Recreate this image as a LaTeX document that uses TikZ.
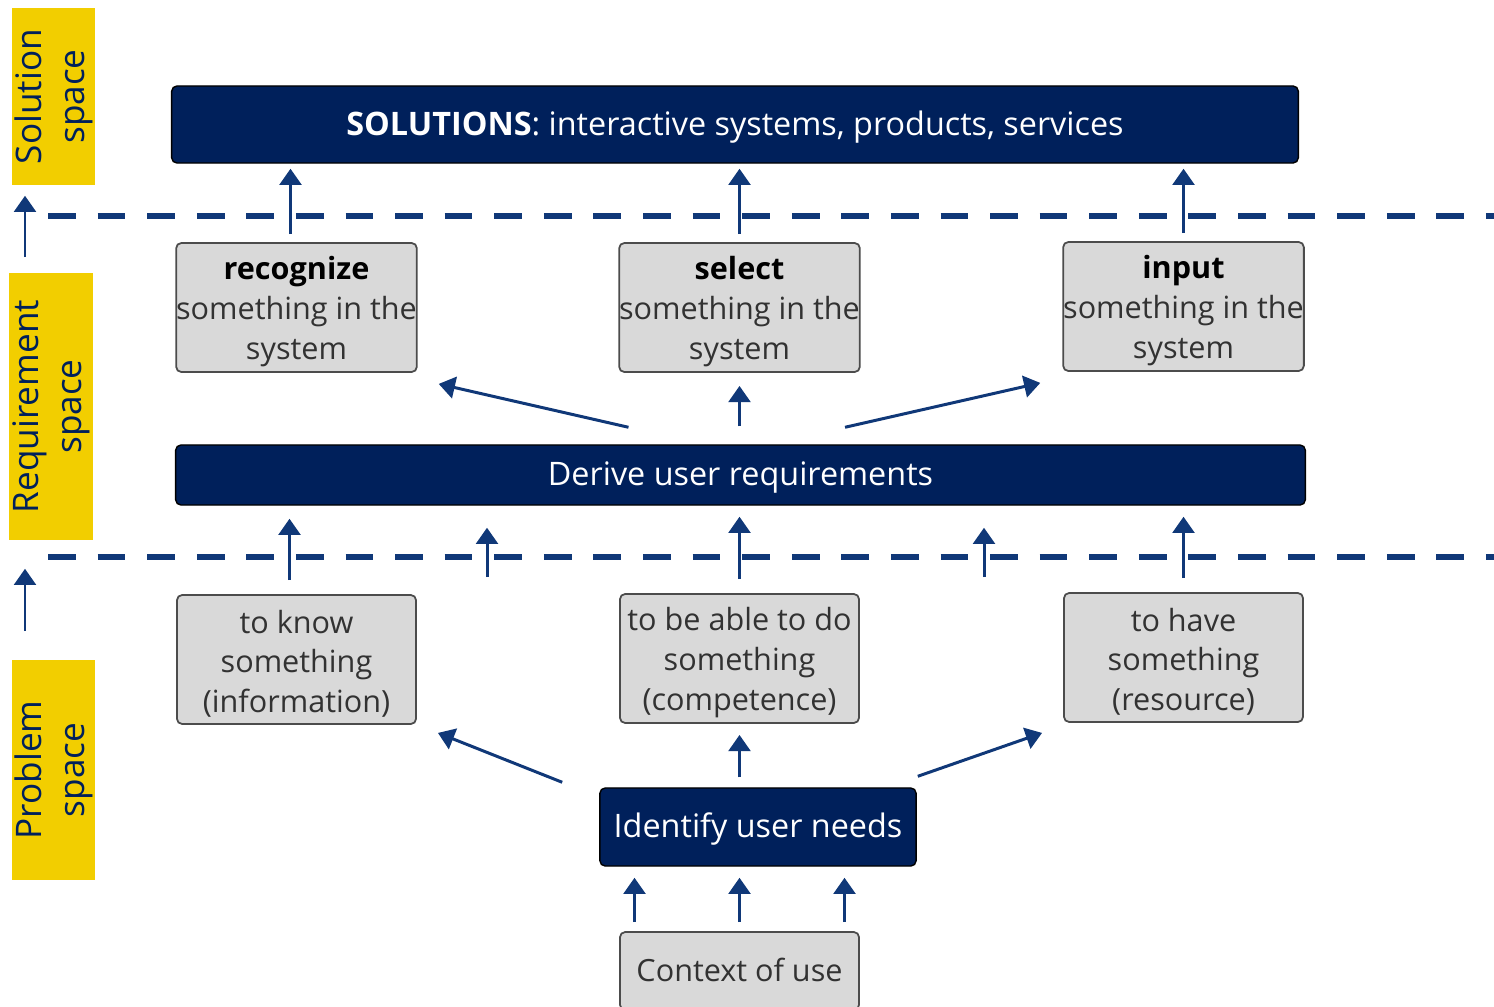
\documentclass[tikz,border=0pt]{standalone}
\usepackage{fontspec}
\setmainfont{Open Sans}
\usetikzlibrary{positioning,arrows.meta}
\definecolor{navy}{RGB}{0,32,91}
\definecolor{arrblue}{RGB}{16,56,120}
\definecolor{boxgray}{RGB}{217,217,217}
\definecolor{tagyellow}{RGB}{242,206,0}
\definecolor{txtgray}{RGB}{50,50,50}
\newcommand{\tline}{\rule{0pt}{9pt}}

\begin{document}
\begin{tikzpicture}[x=0.01cm, y=-0.01cm,
    bar/.style={draw=black, line width=0.4pt, fill=navy, text=white, rounded corners=1.5pt, inner sep=0pt, text height=9pt, text depth=3pt, font=\fontsize{9.2}{11}\selectfont},
    box/.style={draw=black!70, line width=0.5pt, fill=boxgray, text=txtgray, rounded corners=1.5pt, align=center, minimum width=2.39cm, minimum height=1.29cm, inner sep=0pt, font=\fontsize{8.7}{11.3}\selectfont},
    tag/.style={fill=tagyellow, text=navy, rotate=90, align=center, minimum height=0.83cm, inner sep=0pt, font=\fontsize{10}{12.2}\selectfont},
    arr/.style={draw=arrblue, line width=0.85pt, -{Triangle[width=6.2pt,length=4.6pt]}},
    dash line/.style={draw=arrblue, line width=1.6pt, dash pattern=on 7.9pt off 6.2pt}]

    \useasboundingbox (0,0) rectangle (1494,1006);

    \node[tag, minimum width=1.77cm] (lsol) at (53.5,96.5) {Solution\\space};
    \node[tag, minimum width=2.67cm] (lreq) at (51,406.5) {Requirement\\space};
    \node[tag, minimum width=2.20cm] (lprob) at (53.5,770) {Problem\\space};

    \node[bar, minimum width=11.26cm, minimum height=0.77cm] (sol) at (735,124.5) {\textbf{SOLUTIONS}: interactive systems, products, services};
    \node[box] (recog) at (296.5,307.5) {\tline\textcolor{black}{\textbf{recognize}}\\something in the\\system};
    \node[box] (select) at (739.5,307.5) {\tline\textcolor{black}{\textbf{select}}\\something in the\\system};
    \node[box] (input) at (1183.5,306.5) {\tline\textcolor{black}{\textbf{input}}\\something in the\\system};
    \node[bar, minimum width=11.29cm, minimum height=0.60cm] (derive) at (740.5,475) {Derive user requirements};
    \node[box] (know) at (296.5,659.5) {\tline to know\\something\\(information)};
    \node[box] (able) at (739.5,658.5) {\tline to be able to do\\something\\(competence)};
    \node[box] (have) at (1183.5,657.5) {\tline to have\\something\\(resource)};
    \node[bar, minimum width=3.16cm, minimum height=0.78cm] (identify) at (758,827) {Identify user needs};
    \node[box, minimum height=0.78cm, text height=7.8pt, text depth=1.8pt] (context) at (739.5,971) {Context of use};
    \coordinate (gapl) at (487,577);
    \coordinate (gapr) at (984,577);
    \coordinate (rk) at ([shift={(-6,0)}]recog.north);
    \coordinate (kn) at ([shift={(-7,0)}]know.north);

    % space borders
    \draw[dash line] (48,216) -- (1494,216);
    \draw[dash line] (48,557) -- (1494,557);

    \draw[arr] ([shift={(-26,-15)}]lreq.east) -- ([shift={(-28.5,10)}]lsol.west);
    \draw[arr] ([shift={(-28.5,-28)}]lprob.east) -- ([shift={(-26,28)}]lreq.west);

    % requirements -> solutions
    \draw[arr, shorten <=0.08cm, shorten >=0.05cm] (rk) -- (rk |- sol.south);
    \draw[arr, shorten <=0.08cm, shorten >=0.05cm] (select.north) -- (select.north |- sol.south);
    \draw[arr, shorten <=0.08cm, shorten >=0.05cm] (input.north) -- (input.north |- sol.south);
    \draw[arr] ([shift={(-112,-17)}]derive.north) -- ([shift={(21,11)}]recog.south east);
    \draw[arr, shorten <=0.18cm, shorten >=0.13cm] (derive.north -| select.south) -- (select.south);
    \draw[arr] ([shift={(104.5,-17)}]derive.north) -- ([shift={(-22,11)}]input.south west);

    % needs -> requirements
    \draw[arr, shorten <=0.14cm, shorten >=0.13cm] (kn) -- (kn |- derive.south);
    \draw[arr, shorten <=0.14cm, shorten >=0.11cm] (able.north) -- (able.north |- derive.south);
    \draw[arr, shorten <=0.14cm, shorten >=0.11cm] (have.north) -- (have.north |- derive.south);
    \draw[arr, shorten >=0.22cm] (gapl) -- (gapl |- derive.south);
    \draw[arr, shorten >=0.22cm] (gapr) -- (gapr |- derive.south);
    \draw[arr] ([shift={(-37,-5)}]identify.north west) -- ([shift={(21,8)}]know.south east);
    \draw[arr, shorten <=0.10cm, shorten >=0.11cm] (able.south |- identify.north) -- (able.south);
    \draw[arr] ([shift={(1,-11)}]identify.north east) -- ([shift={(-21,10)}]have.south west);

    % context -> needs
    \foreach \dx in {-105,0,105}{
      \coordinate (c) at ([shift={(\dx,0)}]context.north);
      \draw[arr, shorten <=0.09cm, shorten >=0.11cm] (c) -- (c |- identify.south);
    }
\end{tikzpicture}
\end{document}
